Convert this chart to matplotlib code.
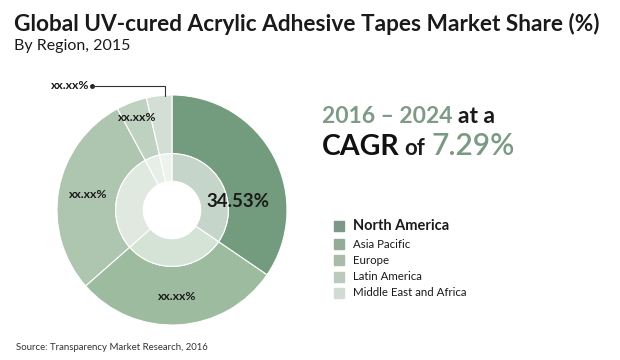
import numpy as np
import matplotlib
matplotlib.use("Agg")
import matplotlib.pyplot as plt

plt.rcParams['font.family'] = ['Lato', 'DejaVu Sans']

regions = ["North America", "Asia Pacific", "Europe", "Latin America", "Middle East and Africa"]
shares = [34.53, 29.0, 28.6, 4.3, 3.57]
labels = ["34.53%", "xx.xx%", "xx.xx%", "xx.xx%", "xx.xx%"]
outer_colors = ["#739b7d", "#9dbb9f", "#aec5b0", "#bfd2c1", "#d3dfd4"]
inner_colors = ["#c6d5c9", "#d5e2d6", "#dfe9e0", "#e6eee7", "#eef3ef"]
legend_colors = ["#7d9886", "#93ac97", "#a8bca9", "#bccabd", "#d1dbd2"]

W, H = 620, 360
fig = plt.figure(figsize=(W / 100, H / 100), dpi=100)

# donut axes: centre (172, 210) px, radius 115 px
cx, cy, r = 172, 210, 115
ax = fig.add_axes([(cx - r) / W, (H - cy - r) / H, 2 * r / W, 2 * r / H])
ax.set_aspect('equal')
ax.axis('off')

wp = dict(edgecolor='white', linewidth=0.8)
ax.pie(shares, radius=1.0, colors=outer_colors, startangle=90, counterclock=False,
       wedgeprops=dict(width=0.51, **wp))
ax.pie(shares, radius=0.49, colors=inner_colors, startangle=90, counterclock=False,
       wedgeprops=dict(width=0.24, **wp))
ax.set_xlim(-1, 1)
ax.set_ylim(-1, 1)

# labels along the ring
cum = np.cumsum([0] + shares)
mids = [(cum[i] + cum[i + 1]) / 2 / 100 * 360 for i in range(len(shares))]
label_r = [0.0, 0.75, 0.74, 0.86, 0.0]
for i in [1, 2, 3]:
    a = np.deg2rad(90 - mids[i])
    ax.text(label_r[i] * np.cos(a), label_r[i] * np.sin(a), labels[i], ha='center', va='center',
            fontsize=8.8, fontweight='bold', color='#1a1a1a')
ax.text(0.57, 0.07, labels[0], ha='center', va='center', fontsize=13.5, fontweight='bold',
        color='#1a1a1a')

# leader for Middle East and Africa
ax.annotate(labels[4], xy=(-0.06, 0.99), xytext=(-0.72, 1.08), ha='right', va='center',
            fontsize=8.8, fontweight='bold', color='#1a1a1a',
            arrowprops=dict(arrowstyle='-', color='#333333', lw=0.8,
                            connectionstyle='angle,angleA=0,angleB=90,rad=0',
                            shrinkA=0, shrinkB=0),
            annotation_clip=False)
ax.plot([-0.70], [1.08], marker='o', markersize=2.5, color='#222222', clip_on=False)

# titles
fig.text(14 / W, 1 - 24 / H, "Global UV-cured Acrylic Adhesive Tapes Market Share (%)",
         fontsize=16.3, fontweight='bold', color='#1a1a1a', va='center', ha='left')
fig.text(14 / W, 1 - 46 / H, "By Region, 2015", fontsize=11.5, color='#1a1a1a',
         va='center', ha='left')

# CAGR block
t1 = fig.text(322 / W, 1 - 117 / H, "2016 \u2013 2024", fontsize=16.5, fontweight='bold',
              color='#7f9a86', va='center', ha='left')
fig.canvas.draw()
rend = fig.canvas.get_renderer()
bb = t1.get_window_extent(rend)
fig.text((bb.x1 + 5) / W, 1 - 117 / H, "at a", fontsize=16.5, fontweight='bold',
         color='#1a1a1a', va='center', ha='left')
t2 = fig.text(322 / W, 1 - 155 / H, "CAGR", fontsize=20.5, fontweight='bold', color='#111111',
              va='baseline', ha='left')
bb2 = t2.get_window_extent(rend)
t3 = fig.text((bb2.x1 + 5) / W, 1 - 155 / H, "of", fontsize=16, fontweight='bold',
              color='#1a1a1a', va='baseline', ha='left')
bb3 = t3.get_window_extent(rend)
fig.text((bb3.x1 + 6) / W, 1 - 155 / H, "7.29%", fontsize=21.5, fontweight='semibold',
         color='#7a9a82', va='baseline', ha='left')

# legend
leg_y = [226, 244, 260, 277, 293]
for i, name in enumerate(regions):
    fig.patches.append(plt.Rectangle(((334) / W, 1 - (leg_y[i] + 5) / H), 10 / W, 10 / H,
                                     transform=fig.transFigure, color=legend_colors[i],
                                     figure=fig))
    fig.text(353 / W, 1 - leg_y[i] / H, name, fontsize=10.5 if i == 0 else 8.3,
             fontweight='bold' if i == 0 else 'normal', color='#1a1a1a',
             va='center', ha='left')

fig.text(16 / W, 1 - 347 / H, "Source: Transparency Market Research, 2016", fontsize=6.9,
         color='#333333', va='center', ha='left')

fig.savefig("out.png", dpi=100, facecolor='white')
